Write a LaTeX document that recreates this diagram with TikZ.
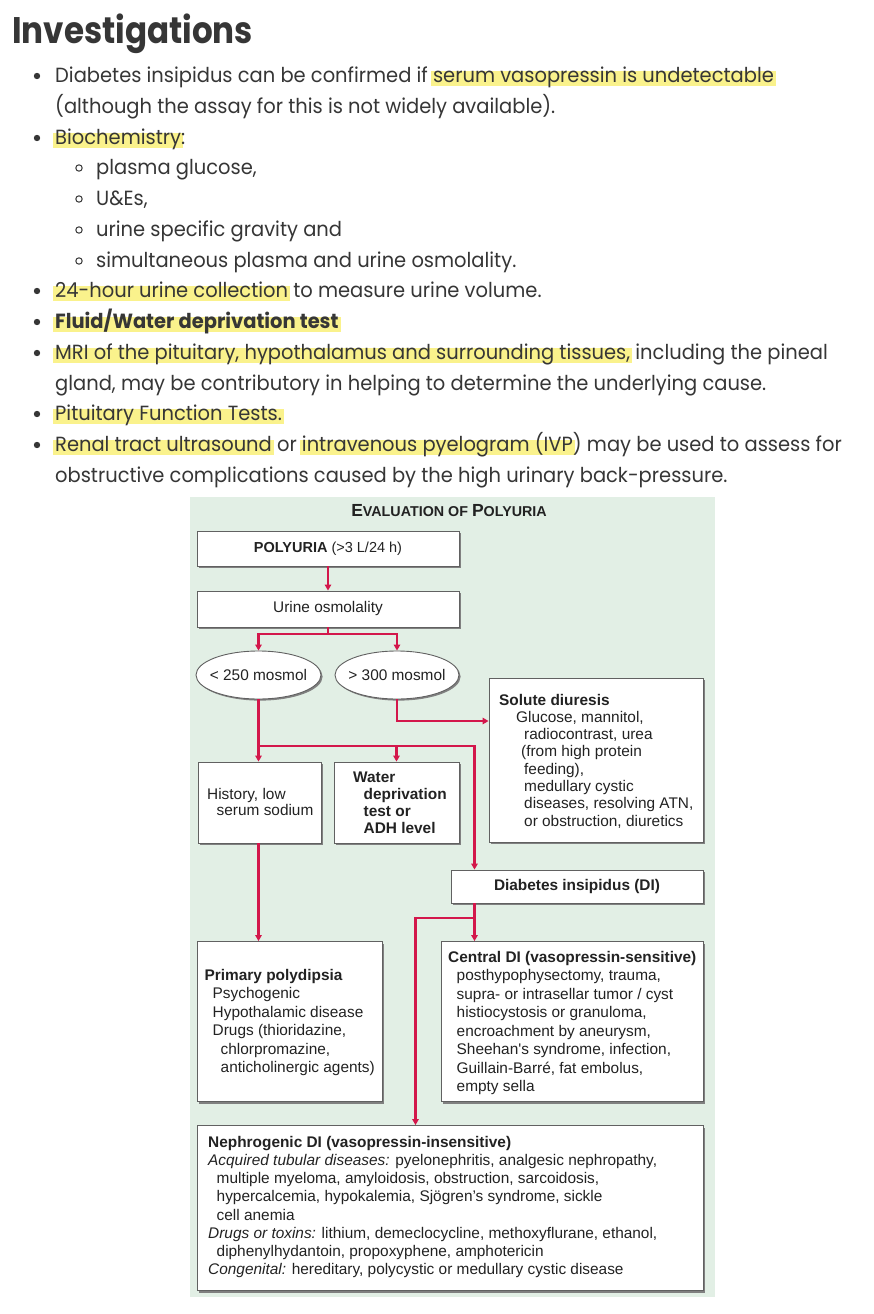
\documentclass[tikz,border=0pt]{standalone}
\usepackage{fontspec}
\setmainfont{Poppins}[FakeStretch=0.95]
\newfontfamily\headfont{Poppins}[FakeStretch=0.88]
\newfontfamily\dgfont{Liberation Sans}
\usetikzlibrary{arrows.meta,shadows,shapes.geometric,calc}
\definecolor{bgg}{HTML}{E2EFE5}
\definecolor{arrc}{HTML}{D3174B}
\definecolor{hly}{HTML}{FAF28C}
\definecolor{bodyc}{HTML}{363636}
\definecolor{dgc}{HTML}{222222}
\newcommand\hlt[1]{\begingroup\setbox0\hbox{#1}\hskip-2pt\rlap{\color{hly}\rule[-4pt]{\dimexpr\wd0+4pt\relax}{15pt}}\hskip2pt\box0\endgroup}
\newcommand\lns[2]{\vtop{\baselineskip=#1pt\lineskip=0pt\lineskiplimit=-30pt\halign{##\hfil\cr#2\crcr}}}
\begin{document}
\begin{tikzpicture}[x=1pt,y=-1pt,
  body/.style={anchor=base west, inner sep=0pt, text=bodyc, font=\fontsize{20.5}{31}\selectfont},
  box/.style={draw=black!62, fill=white, line width=0.9pt, inner sep=0pt,
    drop shadow={shadow xshift=2pt, shadow yshift=-2pt, fill=black!50, opacity=1},
    text=dgc, font=\dgfont\fontsize{15.4}{17.4}\selectfont},
  ell/.style={ellipse, draw=black!62, fill=white, line width=0.9pt, inner sep=0pt,
    drop shadow={shadow xshift=1.6pt, shadow yshift=-1.6pt, fill=black!50, opacity=1}},
  ctxt/.style={inner sep=0pt, text=dgc, font=\dgfont\fontsize{15.4}{17.4}\selectfont},
  dtxt/.style={anchor=base west, inner sep=0pt, text=dgc, font=\dgfont\fontsize{15.4}{17.4}\selectfont},
  ln/.style={draw=arrc, line width=2.3pt},
  arr/.style={ln, -{Triangle[length=6pt,width=6.5pt]}},
  dotb/.style={fill=bodyc},
  circb/.style={draw=bodyc, line width=1pt}
]
\useasboundingbox[fill=white] (0,0) rectangle (874,1314);

% ---------- text part ----------
\node[body, font=\headfont\bfseries\fontsize{37}{40}\selectfont] (head) at (12,44) {Investigations};

\fill[dotb] (37,76) circle (3.2);
\node[body] (l1) at (55,82) {Diabetes insipidus can be confirmed if \hlt{serum vasopressin is undetectable}};
\node[body] (l2) at (55,113) {(although the assay for this is not widely available).};
\fill[dotb] (37,138) circle (3.2);
\node[body] (l3) at (55,144) {\hlt{Biochemistry}:};
\draw[circb] (79,168) circle (3.2);
\node[body] (l4) at (96,174) {plasma glucose,};
\draw[circb] (79,199) circle (3.2);
\node[body] (l5) at (96,205) {U\&Es,};
\draw[circb] (79,230) circle (3.2);
\node[body] (l6) at (96,236) {urine specific gravity and};
\draw[circb] (79,261) circle (3.2);
\node[body] (l7) at (96,267) {simultaneous plasma and urine osmolality.};
\fill[dotb] (37,291) circle (3.2);
\node[body] (l8) at (55,297) {\hlt{24-hour urine collection} to measure urine volume.};
\fill[dotb] (37,322) circle (3.2);
\node[body] (l9) at (55,328) {\hlt{\bfseries Fluid/Water deprivation test}};
\fill[dotb] (37,353) circle (3.2);
\node[body] (l10) at (55,359) {\hlt{MRI of the pituitary, hypothalamus and surrounding tissues,} including the pineal};
\node[body] (l11) at (55,390) {gland, may be contributory in helping to determine the underlying cause.};
\fill[dotb] (37,414) circle (3.2);
\node[body] (l12) at (55,420) {\hlt{Pituitary Function Tests.}};
\fill[dotb] (37,445) circle (3.2);
\node[body] (l13) at (55,451) {\hlt{Renal tract ultrasound} or \hlt{intravenous pyelogram (IVP}) may be used to assess for};
\node[body] (l14) at (55,482) {obstructive complications caused by the high urinary back-pressure.};

% ---------- diagram ----------
\fill[bgg] (190,497) rectangle (715,1297);
\node[inner sep=0pt, text=dgc, font=\dgfont\bfseries] (title) at (449,511)
  {\fontsize{17.5}{18}\selectfont E\fontsize{14.3}{18}\selectfont VALUATION OF \fontsize{17.5}{18}\selectfont P\fontsize{14.3}{18}\selectfont OLYURIA};

\node[box, minimum width=262, minimum height=35] (poly) at (328,548.5)
  {\fontsize{14.5}{17}\selectfont\textbf{POLYURIA} (>3 L/24 h)};
\node[box, minimum width=262, minimum height=36] (uo) at (328,609) {Urine osmolality};
\node[ell, minimum width=125, minimum height=48] (lt) at (258.5,675) {};
\node[ctxt] (lttx) at (lt.center) {< 250 mosmol};
\node[ell, minimum width=124, minimum height=48] (gt) at (397,675) {};
\node[ctxt] (gttx) at (gt.center) {> 300 mosmol};
\node[box, minimum width=214, minimum height=164] (sol) at (596,760) {};
\node[box, minimum width=123, minimum height=81] (hist) at (259.5,802.5) {};
\node[box, minimum width=125, minimum height=81] (wat) at (396.5,802.5) {};
\node[box, minimum width=252, minimum height=33] (di) at (577,886.5) {\textbf{Diabetes insipidus (DI)}};
\node[box, minimum width=185, minimum height=160] (pp) at (289.5,1021.5) {};
\node[box, minimum width=262, minimum height=160] (cdi) at (572,1021.5) {};
\node[box, minimum width=506, minimum height=165] (ndi) at (450,1208) {};

% box texts
\node[dtxt] (soltx) at (499,705) {\lns{17.3}{\textbf{Solute diuresis}\cr
  \hspace*{17pt}Glucose, mannitol,\cr
  \hspace*{25pt}radiocontrast, urea\cr
  \hspace*{22pt}(from high protein\cr
  \hspace*{25pt}feeding),\cr
  \hspace*{25pt}medullary cystic\cr
  \hspace*{25pt}diseases, resolving ATN,\cr
  \hspace*{25pt}or obstruction, diuretics}};
\node[dtxt] (histtx) at (207,799) {\lns{16.2}{History, low\cr\hspace*{9.5pt}serum sodium}};
\node[dtxt, font=\dgfont\bfseries\fontsize{15.4}{17}\selectfont] (wattx) at (353,782)
  {\lns{17}{Water\cr\hspace*{10.5pt}deprivation\cr\hspace*{10.5pt}test or\cr\hspace*{10.5pt}ADH level}};
\node[dtxt] (pptx) at (204.5,980) {\lns{18.5}{\textbf{Primary polydipsia}\cr
  \hspace*{8pt}Psychogenic\cr
  \hspace*{8pt}Hypothalamic disease\cr
  \hspace*{8pt}Drugs (thioridazine,\cr
  \hspace*{16pt}chlorpromazine,\cr
  \hspace*{16pt}anticholinergic agents)}};
\node[dtxt] (cditx) at (448,962.5) {\lns{18.45}{\textbf{Central DI (vasopressin-sensitive)}\cr
  \hspace*{8.5pt}posthypophysectomy, trauma,\cr
  \hspace*{8.5pt}supra- or intrasellar tumor / cyst\cr
  \hspace*{8.5pt}histiocystosis or granuloma,\cr
  \hspace*{8.5pt}encroachment by aneurysm,\cr
  \hspace*{8.5pt}Sheehan's syndrome, infection,\cr
  \hspace*{8.5pt}Guillain-Barré, fat embolus,\cr
  \hspace*{8.5pt}empty sella}};
\node[dtxt] (nditx) at (208,1147) {\lns{18.25}{\textbf{Nephrogenic DI (vasopressin-insensitive)}\cr
  \textit{Acquired tubular diseases:} pyelonephritis, analgesic nephropathy,\cr
  \hspace*{8.5pt}multiple myeloma, amyloidosis, obstruction, sarcoidosis,\cr
  \hspace*{8.5pt}hypercalcemia, hypokalemia, Sjögren’s syndrome, sickle\cr
  \hspace*{8.5pt}cell anemia\cr
  \textit{Drugs or toxins:} lithium, demeclocycline, methoxyflurane, ethanol,\cr
  \hspace*{8.5pt}diphenylhydantoin, propoxyphene, amphotericin\cr
  \textit{Congenital:} hereditary, polycystic or medullary cystic disease}};

% connectors
\coordinate (j1) at (328,634);
\coordinate (j2) at (397,721);
\coordinate (j3) at (258.5,746);
\coordinate (j4) at (474.5,746);
\coordinate (j5) at (474.5,918);
\coordinate (j6) at (415.5,918);
\draw[arr] (poly.south) -- (uo.north);
\draw[ln] (uo.south) -- (j1);
\draw[arr] (j1) -| (lt.north);
\draw[arr] (j1) -| (gt.north);
\draw[arr] (gt.south) |- (j2 -| sol.west);
\draw[arr] (lt.south) -- (lt.south |- hist.north);
\draw[arr] (j3) -| (wat.north);
\draw[arr] (j3) -- (j4) -- (j4 |- di.north);
\draw[arr] (lt.south |- hist.south) -- (lt.south |- pp.north);
\draw[arr] (j4 |- di.south) -- (j4 |- cdi.north);
\draw[arr] (j5) -- (j6) -- (j6 |- ndi.north);
\end{tikzpicture}
\end{document}
